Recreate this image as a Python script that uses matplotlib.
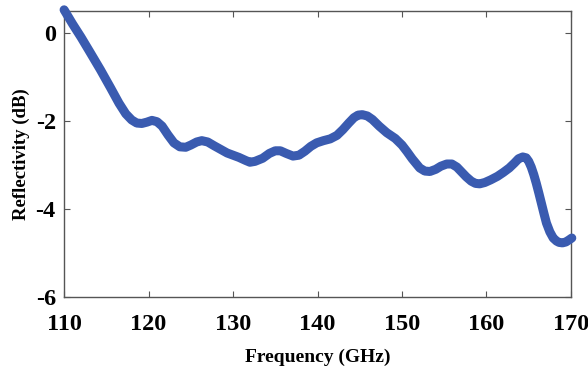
import numpy as np
import matplotlib
matplotlib.use('Agg')
import matplotlib.pyplot as plt

# values
freq = [110.0, 110.5, 111.0, 112.0, 113.0, 114.3, 115.5, 116.5, 117.3, 118.0, 118.6,
        119.2, 119.8, 120.4, 121.0, 121.6, 122.3, 123.0, 123.7, 124.4, 125.0,
        125.7, 126.3, 127.0, 127.8, 129.3, 130.7, 131.5, 132.0, 132.6, 133.5,
        134.3, 135.0, 135.6, 136.3, 137.1, 137.8, 138.5, 139.2, 139.9, 140.7,
        141.5, 142.3, 143.0, 143.7, 144.3, 144.8, 145.3, 145.9, 146.5, 147.3,
        148.2, 149.2, 150.0, 150.6, 151.2, 152.1, 152.7, 153.3, 154.0, 154.6,
        155.3, 155.9, 156.5, 157.0, 157.6, 158.2, 158.7, 159.2, 159.8, 160.5,
        161.3, 162.0, 162.7, 163.3, 163.8, 164.3, 164.7, 165.0, 165.3, 165.6,
        165.9, 166.2, 166.5, 166.8, 167.1, 167.5, 167.9, 168.3, 168.6, 169.0,
        169.4, 169.8, 170.1]
refl = [0.52, 0.36, 0.2, -0.1, -0.42, -0.84, -1.25, -1.60, -1.84, -1.98, -2.05,
        -2.06, -2.03, -1.99, -2.02, -2.12, -2.32, -2.50, -2.59, -2.60, -2.55,
        -2.48, -2.45, -2.48, -2.57, -2.73, -2.83, -2.90, -2.94, -2.92, -2.85,
        -2.74, -2.68, -2.68, -2.74, -2.80, -2.78, -2.69, -2.58, -2.50, -2.45,
        -2.41, -2.33, -2.20, -2.05, -1.93, -1.87, -1.86, -1.89, -1.97, -2.12,
        -2.27, -2.40, -2.55, -2.70, -2.86, -3.07, -3.14, -3.15, -3.10, -3.03,
        -2.98, -2.98, -3.05, -3.15, -3.27, -3.37, -3.42, -3.43, -3.40, -3.34,
        -3.26, -3.17, -3.07, -2.96, -2.86, -2.82, -2.84, -2.92, -3.05, -3.22,
        -3.42, -3.64, -3.87, -4.10, -4.32, -4.52, -4.66, -4.73, -4.76, -4.77,
        -4.75, -4.70, -4.66]

plt.rcParams['font.family'] = ['Liberation Serif', 'DejaVu Serif']
plt.rcParams['font.weight'] = 'bold'
plt.rcParams['axes.unicode_minus'] = False

fig = plt.figure(figsize=(5.88, 3.69), dpi=100)
ax = fig.add_axes([0.109, 0.195, 0.862, 0.776])

ax.plot(freq, refl, color='#3a5bb0', lw=6.5, solid_capstyle='round',
        solid_joinstyle='round', clip_on=False, zorder=3)

ax.set_xlim(110, 170)
ax.set_ylim(-6, 0.5)
ax.set_xticks(np.arange(110, 171, 10))
ax.set_yticks([-6, -4, -2, 0])
ax.tick_params(direction='in', top=True, right=True, length=4, width=0.8,
               color='#555555', labelsize=17.5)
ax.tick_params(axis='x', pad=12)
ax.tick_params(axis='y', pad=6)
for lab in ax.get_xticklabels() + ax.get_yticklabels():
    lab.set_fontweight('bold')
for sp in ax.spines.values():
    sp.set_color('#555555')
    sp.set_linewidth(1)

ax.set_xlabel('Frequency (GHz)', fontsize=14, fontweight='bold', labelpad=10)
ax.set_ylabel('Reflectivity (dB)', fontsize=13.5, fontweight='bold', labelpad=4)

fig.savefig('out.png', dpi=100)
